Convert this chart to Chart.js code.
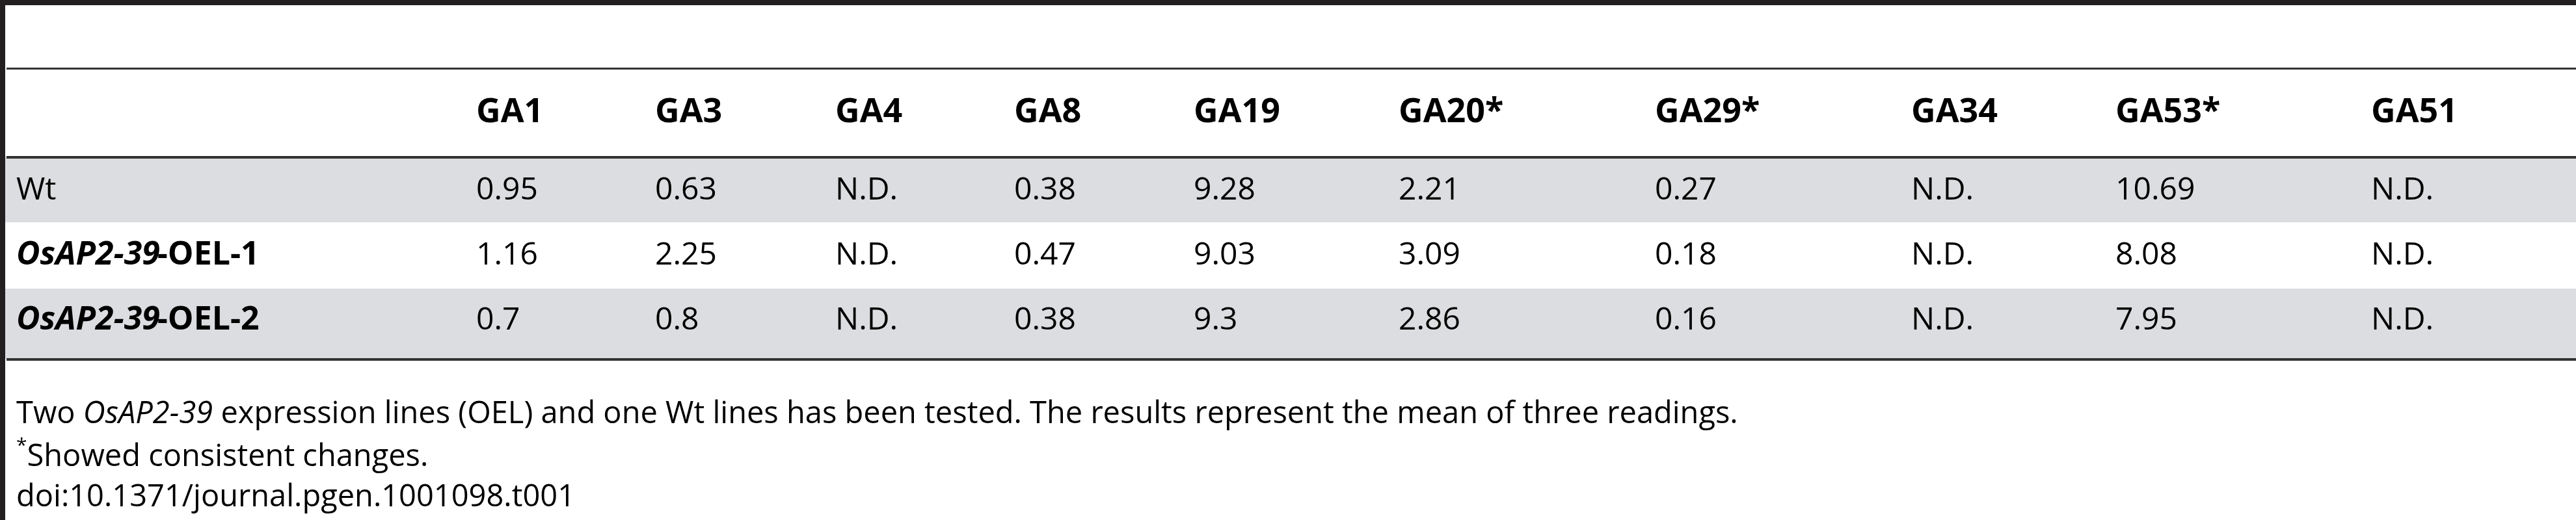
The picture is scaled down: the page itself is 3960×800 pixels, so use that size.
<!DOCTYPE html>
<html><head><meta charset="utf-8">
<script src="https://cdn.jsdelivr.net/npm/chart.js@4.4.1/dist/chart.umd.min.js"></script>
<style>html,body{margin:0;padding:0;background:#fff}canvas{display:block}</style>
</head><body>
<canvas id="c" width="3960" height="800"></canvas>
<script>
// ---- data ----
const columns = ['GA1','GA3','GA4','GA8','GA19','GA20*','GA29*','GA34','GA53*','GA51'];
const rowNames = ['Wt','OsAP2-39-OEL-1','OsAP2-39-OEL-2'];
const wtValues   = ['0.95','0.63','N.D.','0.38','9.28','2.21','0.27','N.D.','10.69','N.D.'];
const oel1Values = ['1.16','2.25','N.D.','0.47','9.03','3.09','0.18','N.D.','8.08','N.D.'];
const oel2Values = ['0.7','0.8','N.D.','0.38','9.3','2.86','0.16','N.D.','7.95','N.D.'];
const captionLines = [
  [['Two ',''],['OsAP2-39','italic '],[' expression lines (OEL) and one Wt lines has been tested. The results represent the mean of three readings.','']],
  [['*','sup'],['Showed consistent changes.','']],
  [['doi:10.1371/journal.pgen.1001098.t001','']]
];
// ---- layout (pixel positions of the table grid) ----
const colX = [732,1007,1284,1559,1835,2150,2544,2938,3252,3645];
const labelX = 25;
const headerY = 173;
const rowY = [293,393,493];
const rowBands = [[241,342,true],[342,444,false],[444,552,true]];
const captionY = [638,704,766];
const FONT = '"Open Sans"';

const allRows = [wtValues, oel1Values, oel2Values];
const datasets = allRows.map((vals, r) => ({
  label: rowNames[r],
  data: vals.map((v, c) => ({x: colX[c], y: rowY[r], text: v})),
  pointRadius: 0, showLine: false
}));
datasets.push({label:'header', data: columns.map((h,c)=>({x: colX[c], y: headerY, text: h})), pointRadius:0});

const tablePlugin = {
  id: 'table',
  beforeDatasetsDraw(chart) {
    const {ctx, scales:{x, y}} = chart;
    ctx.save();
    const W = x.getPixelForValue(3960), X0 = x.getPixelForValue(0);
    rowBands.forEach(([a,b,shade]) => {
      if (shade) { ctx.fillStyle = '#dcdde0'; ctx.fillRect(X0, y.getPixelForValue(a), W-X0, y.getPixelForValue(b)-y.getPixelForValue(a)); }
    });
    ctx.fillStyle = '#231f20';
    ctx.fillRect(X0, y.getPixelForValue(0), W-X0, 8);
    ctx.fillRect(X0, y.getPixelForValue(0), 8, 800);
    ctx.fillStyle = '#333';
    ctx.fillRect(10, y.getPixelForValue(104), W-10, 3);
    ctx.fillRect(10, y.getPixelForValue(240), W-10, 4);
    ctx.fillRect(10, y.getPixelForValue(551), W-10, 4);
    ctx.restore();
  },
  afterDatasetsDraw(chart) {
    const {ctx, scales:{x, y}} = chart;
    ctx.save();
    ctx.fillStyle = '#000';
    ctx.textBaseline = 'middle';
    chart.data.datasets.forEach((ds, di) => {
      const isHeader = ds.label === 'header';
      chart.getDatasetMeta(di).data.forEach((pt, i) => {
        ctx.font = (isHeader ? 'bold 52px ' : '48px ') + FONT;
        ctx.fillText(ds.data[i].text, pt.x, pt.y);
      });
      if (!isHeader) {
        const py = y.getPixelForValue(rowY[di]);
        const px = x.getPixelForValue(labelX);
        const name = ds.label;
        if (name.startsWith('OsAP2-39')) {
          ctx.font = 'italic bold 50px ' + FONT;
          ctx.fillText('OsAP2-39', px, py);
          const w = ctx.measureText('OsAP2-39').width;
          ctx.font = 'bold 50px ' + FONT;
          ctx.fillText(name.slice(8), px + w - 4, py);
        } else {
          ctx.font = '48px ' + FONT;
          ctx.fillText(name, px, py);
        }
      }
    });
    captionLines.forEach((line, li) => {
      let px = x.getPixelForValue(labelX);
      const py = y.getPixelForValue(captionY[li]);
      line.forEach(([t, st]) => {
        if (st === 'sup') { ctx.font = '30px ' + FONT; ctx.fillText(t, px, py - 18); }
        else { ctx.font = st + '47px ' + FONT; ctx.fillText(t, px, py); }
        px += ctx.measureText(t).width;
      });
    });
    ctx.restore();
  }
};

new Chart(document.getElementById('c'), {
  type: 'scatter',
  data: { datasets },
  options: {
    responsive: false, animation: false, devicePixelRatio: 1,
    layout: { padding: 0 },
    plugins: { legend: {display:false}, tooltip: {enabled:false} },
    scales: {
      x: { type:'linear', min:0, max:3960, display:false },
      y: { type:'linear', min:0, max:800, reverse:true, display:false }
    }
  },
  plugins: [tablePlugin]
});
</script>
</body></html>
